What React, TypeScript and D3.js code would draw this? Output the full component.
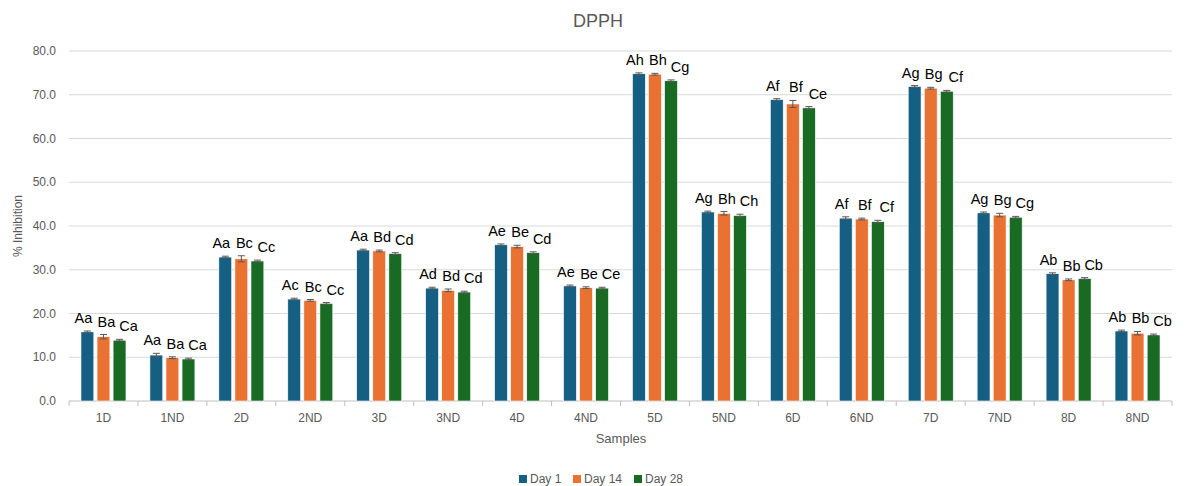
import React from "react";
import * as d3 from "d3";

const categories = ["1D","1ND","2D","2ND","3D","3ND","4D","4ND","5D","5ND","6D","6ND","7D","7ND","8D","8ND"];
const seriesNames = ["Day 1","Day 14","Day 28"];
const day1 = [15.8,10.5,32.9,23.3,34.5,25.8,35.7,26.3,74.8,43.2,68.9,41.8,71.9,43.0,29.1,16.0];
const day14 = [14.7,9.9,32.5,23.0,34.3,25.3,35.3,25.9,74.7,42.9,67.9,41.6,71.5,42.5,27.7,15.5];
const day28 = [13.9,9.6,32.0,22.3,33.7,24.9,33.9,25.8,73.2,42.4,67.0,41.0,70.8,42.0,28.0,15.1];
const err1 = [0.2,0.4,0.2,0.2,0.2,0.2,0.2,0.2,0.2,0.2,0.2,0.3,0.2,0.2,0.2,0.2];
const err14 = [0.5,0.2,0.7,0.2,0.2,0.3,0.3,0.2,0.2,0.4,0.8,0.2,0.2,0.4,0.2,0.4];
const err28 = [0.2,0.2,0.2,0.2,0.2,0.2,0.2,0.2,0.2,0.3,0.3,0.3,0.2,0.2,0.2,0.2];
const lab1 = ["Aa","Aa","Aa","Ac","Aa","Ad","Ae","Ae","Ah","Ag","Af","Af","Ag","Ag","Ab","Ab"];
const lab14 = ["Ba","Ba","Bc","Bc","Bd","Bd","Be","Be","Bh","Bh","Bf","Bf","Bg","Bg","Bb","Bb"];
const lab28 = ["Ca","Ca","Cc","Cc","Cd","Cd","Cd","Ce","Cg","Ch","Ce","Cf","Cf","Cg","Cb","Cb"];
const yTicks = [0,10,20,30,40,50,60,70,80];

const colors = ["#156082","#E97132","#196B24"];
const W = 1190, H = 486;
const FONT = "'Liberation Sans', Arial, sans-serif";

export default function App() {
  const values = [day1, day14, day28];
  const errs = [err1, err14, err28];
  const labels = [lab1, lab14, lab28];
  const x = d3.scaleBand<string>().domain(categories).range([69, 1172]).paddingInner(0).paddingOuter(0);
  const y = d3.scaleLinear().domain([0, 80]).range([401, 51]);
  const inner = d3.scaleBand<number>().domain([0,1,2]).range([-22.5, 22.5]).paddingInner(0.2);
  const labelDx = [-4, 3, 9];
  return (
    <svg width={W} height={H} style={{ position: "absolute", left: 0, top: 0, background: "#fff" }} fontFamily={FONT}>
      <text x={598} y={27} textAnchor="middle" fontSize={18} fill="#595959">DPPH</text>
      {yTicks.map(t => (
        <g key={t}>
          {t > 0 && <line x1={69} x2={1172} y1={y(t)} y2={y(t)} stroke="#d9d9d9" strokeWidth={1} />}
          <text x={56} y={y(t) + 4} textAnchor="end" fontSize={12} fill="#595959">{t.toFixed(1)}</text>
        </g>
      ))}
      <line x1={69} x2={1172} y1={y(0)} y2={y(0)} stroke="#bfbfbf" strokeWidth={1} />
      {categories.map((c) => (
        <line key={"tk" + c} x1={x(c)!} x2={x(c)!} y1={y(0)} y2={y(0) + 5} stroke="#bfbfbf" />
      ))}
      <line x1={1172} x2={1172} y1={y(0)} y2={y(0) + 5} stroke="#bfbfbf" />
      {categories.map((c, i) => {
        const cx = x(c)! + x.bandwidth() / 2;
        return (
          <g key={c}>
            {values.map((vals, s) => {
              const bx = cx + inner(s)!;
              const bw = inner.bandwidth();
              const v = vals[i];
              const e = errs[s][i];
              const mx = bx + bw / 2;
              return (
                <g key={s}>
                  <rect x={bx} y={y(v)} width={bw} height={y(0) - y(v)} fill={colors[s]} stroke="#ffffff" strokeWidth={0.6} />
                  <line x1={mx} x2={mx} y1={y(v + e)} y2={y(v - e)} stroke="#595959" strokeWidth={1} />
                  <line x1={mx - 3.5} x2={mx + 3.5} y1={y(v + e)} y2={y(v + e)} stroke="#595959" strokeWidth={1} />
                  <line x1={mx - 3.5} x2={mx + 3.5} y1={y(v - e)} y2={y(v - e)} stroke="#595959" strokeWidth={1} />
                  <text x={mx + labelDx[s]} y={y(v + e) - 8} textAnchor="middle" fontSize={14.5} fill="#000">{labels[s][i]}</text>
                </g>
              );
            })}
            <text x={cx} y={422} textAnchor="middle" fontSize={12} fill="#595959">{c}</text>
          </g>
        );
      })}
      <text transform={`translate(22,226) rotate(-90)`} textAnchor="middle" fontSize={12} fill="#595959">% Inhibition</text>
      <text x={621} y={443} textAnchor="middle" fontSize={13} fill="#595959">Samples</text>
      {seriesNames.map((n, s) => {
        const lx = [519, 573, 634][s];
        return (
          <g key={n}>
            <rect x={lx} y={475} width={8} height={8} fill={colors[s]} />
            <text x={lx + 11} y={483} fontSize={12} fill="#595959">{n}</text>
          </g>
        );
      })}
    </svg>
  );
}
